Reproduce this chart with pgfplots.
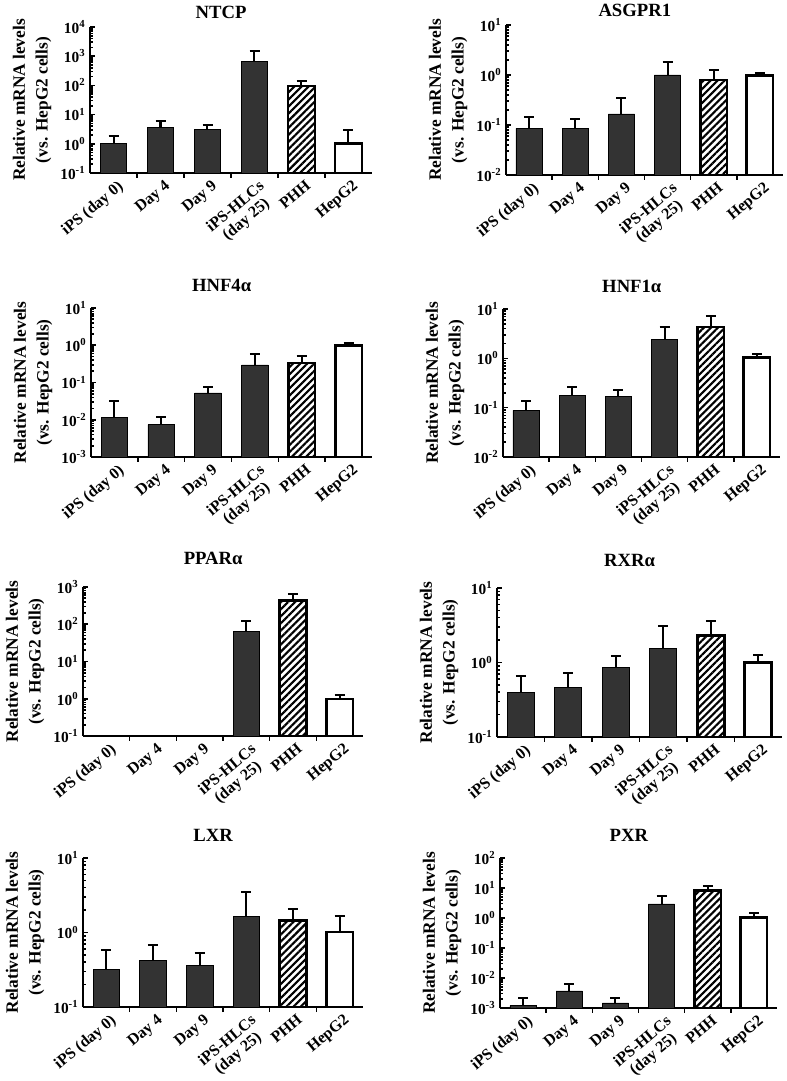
\documentclass[border=0pt]{standalone}
\usepackage{fontspec}
\setmainfont{Liberation Serif}
\usepackage{pgfplots}
\pgfplotsset{compat=1.18}
\usetikzlibrary{patterns.meta}
\definecolor{darkbar}{gray}{0.2}
\tikzset{
 darkb/.style={fill=darkbar, draw=black, line width=0.6pt},
 hatchb/.style={pattern={Lines[angle=45,distance=3.75pt,line width=1.6pt]}, draw=black, line width=2pt},
 whiteb/.style={fill=white, draw=black, line width=2pt},
}
\pgfplotsset{
 every axis/.append style={
  scale only axis, anchor=south west,
  ymode=log, log origin=infty,
  xmin=-0.5, xmax=5.5,
  axis lines=left,
  axis line style={line width=1.8pt, -},
  tick align=inside,
  major tick length=3.75pt, minor tick length=2.25pt,
  tick style={line width=1.2pt, black},
  xtick={0.5,1.5,2.5,3.5,4.5}, xticklabels={},
  extra x ticks={0,1,2,3,4,5},
  extra x tick labels={iPS (day 0),Day 4,Day 9,{iPS-HLCs\\(day 25)},PHH,HepG2},
  extra x tick style={major tick length=0pt},
  xticklabel style={rotate=40, anchor=north east, align=center, font=\fontsize{12}{12.5}\selectfont\bfseries, inner sep=1pt, yshift=-4pt},
  yticklabel style={font=\fontsize{11.5}{12}\selectfont\bfseries},
  ylabel={Relative mRNA levels\\(vs. HepG2 cells)},
  ylabel style={align=center, font=\fontsize{13}{17}\selectfont\bfseries},
  title style={at={(0.465,1)}, anchor=center, font=\fontsize{14}{16}\selectfont\bfseries},
  ybar, bar shift=0pt, bar width=0.57,
  error bars/y dir=plus, error bars/y explicit,
  error bars/error bar style={line width=1.5pt, black, solid},
  error bars/error mark options={rotate=90, mark size=3.75pt, line width=1.5pt, black, solid},
  clip=false,
 },
}
\begin{document}
\begin{tikzpicture}
\path[use as bounding box] (0,0) rectangle (590.25pt,810.75pt);

% NTCP
\begin{axis}[at={(67.5pt,681pt)}, width=211.5pt, height=109.5pt,
  title={NTCP}, title style={yshift=5.25pt},
  ymin=0.1, ymax=10000,
  ytick={0.1,1,10,100,1000,10000},
  yticklabels={10\textsuperscript{-1},10\textsuperscript{0},10\textsuperscript{1},10\textsuperscript{2},10\textsuperscript{3},10\textsuperscript{4}},
  minor ytick={0.2,0.3,0.4,0.5,0.6,0.7,0.8,0.9,2,3,4,5,6,7,8,9,20,30,40,50,60,70,80,90,200,300,400,500,600,700,800,900,2000,3000,4000,5000,6000,7000,8000,9000}]
\addplot[darkb] coordinates {(0,1.05) +- (0,0.82) (1,3.7) +- (0,2.3) (2,3.0) +- (0,1.5) (3,641) +- (0,839)};
\addplot[hatchb] coordinates {(4,95) +- (0,42)};
\addplot[whiteb] coordinates {(5,1.0) +- (0,2.0)};
\end{axis}

% ASGPR1
\begin{axis}[at={(379.5pt,679.5pt)}, width=207.75pt, height=112.5pt,
  title={ASGPR1}, title style={yshift=5.25pt},
  ymin=0.01, ymax=10,
  ytick={0.01,0.1,1,10},
  yticklabels={10\textsuperscript{-2},10\textsuperscript{-1},10\textsuperscript{0},10\textsuperscript{1}},
  minor ytick={0.02,0.03,0.04,0.05,0.06,0.07,0.08,0.09,0.2,0.3,0.4,0.5,0.6,0.7,0.8,0.9,2,3,4,5,6,7,8,9}]
\addplot[darkb] coordinates {(0,0.086) +- (0,0.061) (1,0.086) +- (0,0.046) (2,0.166) +- (0,0.174) (3,1.0) +- (0,0.85)};
\addplot[hatchb] coordinates {(4,0.79) +- (0,0.47)};
\addplot[whiteb] coordinates {(5,0.98) +- (0,0.13)};
\end{axis}

% HNF4a
\begin{axis}[at={(68.25pt,468pt)}, width=210.75pt, height=111.75pt,
  title={HNF4α}, title style={yshift=11.25pt},
  ymin=0.001, ymax=10,
  ytick={0.001,0.01,0.1,1,10},
  yticklabels={10\textsuperscript{-3},10\textsuperscript{-2},10\textsuperscript{-1},10\textsuperscript{0},10\textsuperscript{1}},
  minor ytick={0.002,0.003,0.004,0.005,0.006,0.007,0.008,0.009,0.02,0.03,0.04,0.05,0.06,0.07,0.08,0.09,0.2,0.3,0.4,0.5,0.6,0.7,0.8,0.9,2,3,4,5,6,7,8,9}]
\addplot[darkb] coordinates {(0,0.0116) +- (0,0.0209) (1,0.0074) +- (0,0.0042) (2,0.0523) +- (0,0.0234) (3,0.295) +- (0,0.299)};
\addplot[hatchb] coordinates {(4,0.334) +- (0,0.192)};
\addplot[whiteb] coordinates {(5,1.0) +- (0,0.15)};
\end{axis}

% HNF1a
\begin{axis}[at={(377.25pt,468pt)}, width=207.75pt, height=111pt,
  title={HNF1α}, title style={yshift=11.25pt},
  ymin=0.01, ymax=10,
  ytick={0.01,0.1,1,10},
  yticklabels={10\textsuperscript{-2},10\textsuperscript{-1},10\textsuperscript{0},10\textsuperscript{1}},
  minor ytick={0.02,0.03,0.04,0.05,0.06,0.07,0.08,0.09,0.2,0.3,0.4,0.5,0.6,0.7,0.8,0.9,2,3,4,5,6,7,8,9}]
\addplot[darkb] coordinates {(0,0.088) +- (0,0.051) (1,0.175) +- (0,0.083) (2,0.167) +- (0,0.065) (3,2.39) +- (0,1.92)};
\addplot[hatchb] coordinates {(4,4.3) +- (0,2.8)};
\addplot[whiteb] coordinates {(5,1.05) +- (0,0.17)};
\end{axis}

% PPARa
\begin{axis}[at={(62.25pt,258.75pt)}, width=210pt, height=111.75pt,
  title={PPARα}, title style={yshift=15.75pt},
  ymin=0.1, ymax=1000,
  ytick={0.1,1,10,100,1000},
  yticklabels={10\textsuperscript{-1},10\textsuperscript{0},10\textsuperscript{1},10\textsuperscript{2},10\textsuperscript{3}},
  minor ytick={0.2,0.3,0.4,0.5,0.6,0.7,0.8,0.9,2,3,4,5,6,7,8,9,20,30,40,50,60,70,80,90,200,300,400,500,600,700,800,900}]
\addplot[darkb] coordinates {(3,64.9) +- (0,58)};
\addplot[hatchb] coordinates {(4,440) +- (0,197)};
\addplot[whiteb] coordinates {(5,0.98) +- (0,0.25)};
\end{axis}

% RXRa
\begin{axis}[at={(372.75pt,258pt)}, width=213.75pt, height=111.75pt,
  title={RXRα}, title style={yshift=15pt},
  ymin=0.1, ymax=10,
  ytick={0.1,1,10},
  yticklabels={10\textsuperscript{-1},10\textsuperscript{0},10\textsuperscript{1}},
  minor ytick={0.2,0.3,0.4,0.5,0.6,0.7,0.8,0.9,2,3,4,5,6,7,8,9}]
\addplot[darkb] coordinates {(0,0.396) +- (0,0.268) (1,0.463) +- (0,0.252) (2,0.851) +- (0,0.36) (3,1.55) +- (0,1.55)};
\addplot[hatchb] coordinates {(4,2.30) +- (0,1.26)};
\addplot[whiteb] coordinates {(5,1.0) +- (0,0.28)};
\end{axis}

% LXR
\begin{axis}[at={(62.25pt,55.5pt)}, width=210pt, height=111.75pt,
  title={LXR}, title style={yshift=11.25pt},
  ymin=0.1, ymax=10,
  ytick={0.1,1,10},
  yticklabels={10\textsuperscript{-1},10\textsuperscript{0},10\textsuperscript{1}},
  minor ytick={0.2,0.3,0.4,0.5,0.6,0.7,0.8,0.9,2,3,4,5,6,7,8,9}]
\addplot[darkb] coordinates {(0,0.319) +- (0,0.262) (1,0.417) +- (0,0.261) (2,0.361) +- (0,0.174) (3,1.63) +- (0,1.86)};
\addplot[hatchb] coordinates {(4,1.44) +- (0,0.65)};
\addplot[whiteb] coordinates {(5,1.02) +- (0,0.65)};
\end{axis}

% PXR
\begin{axis}[at={(375pt,54.75pt)}, width=207.75pt, height=112.5pt,
  title={PXR}, title style={yshift=11.25pt},
  ymin=0.001, ymax=100,
  ytick={0.001,0.01,0.1,1,10,100},
  yticklabels={10\textsuperscript{-3},10\textsuperscript{-2},10\textsuperscript{-1},10\textsuperscript{0},10\textsuperscript{1},10\textsuperscript{2}},
  minor ytick={0.002,0.003,0.004,0.005,0.006,0.007,0.008,0.009,0.02,0.03,0.04,0.05,0.06,0.07,0.08,0.09,0.2,0.3,0.4,0.5,0.6,0.7,0.8,0.9,2,3,4,5,6,7,8,9,20,30,40,50,60,70,80,90}]
\addplot[darkb] coordinates {(0,0.0012) +- (0,0.00095) (1,0.0037) +- (0,0.0028) (2,0.00147) +- (0,0.00063) (3,2.93) +- (0,2.62)};
\addplot[hatchb] coordinates {(4,8.15) +- (0,3.25)};
\addplot[whiteb] coordinates {(5,1.05) +- (0,0.42)};
\end{axis}
\end{tikzpicture}
\end{document}
